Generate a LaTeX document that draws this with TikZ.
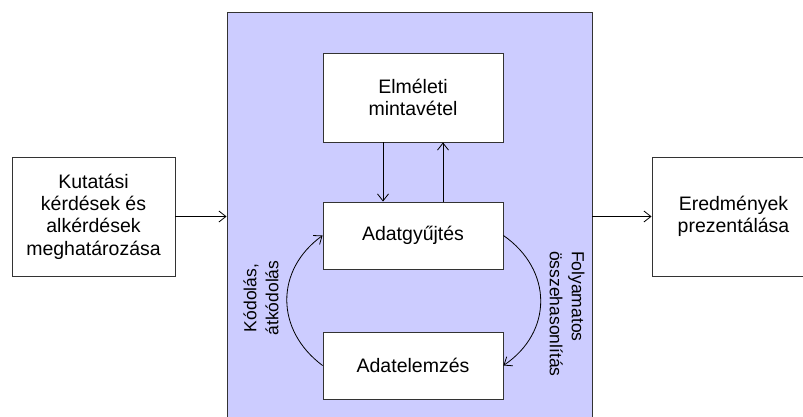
\documentclass[tikz,border=0pt]{standalone}
\usepackage{fontspec}
\setmainfont{Liberation Sans}
\usetikzlibrary{arrows.meta,calc}
\definecolor{frameblue}{HTML}{CCCCFF}
\definecolor{edge}{HTML}{333333}
\tikzset{
  box/.style={draw=edge, fill=white, line width=0.9pt, inner sep=0pt, align=center,
    font=\fontsize{19.5}{22.3}\selectfont},
  conn/.style={draw=black, line width=0.8pt, -{Straight Barb[length=7pt,width=11pt]}},
  lbl/.style={font=\fontsize{17.5}{22}\selectfont, inner sep=0pt}
}
\begin{document}
\begin{tikzpicture}[x=1pt,y=-1pt]
\clip (0,0) rectangle (803,417);
\fill[white] (0,0) rectangle (803,417);
\node[draw=edge, fill=frameblue, line width=0.9pt, minimum width=365pt, minimum height=413pt, inner sep=0pt]
  (frame) at (409.5,218.5) {};
\node[box, minimum width=163pt, minimum height=119pt] (kut) at (93.5,216.5)
  {Kutatási\\kérdések és\\alkérdések\\meghatározása};
\node[box, minimum width=163pt, minimum height=119pt] (ered) at (733.5,216.5)
  {Eredmények\\prezentálása};
\node[box, minimum width=180pt, minimum height=89pt] (elm) at (413,97.5)
  {Elméleti\\mintavétel};
\node[box, minimum width=180pt, minimum height=67pt] (agy) at (413,235.5)
  {Adatgyűjtés};
\node[box, minimum width=180pt, minimum height=67pt] (ael) at (413,365.5)
  {Adatelemzés};
\draw[conn] (kut.east) -- (kut.east -| frame.west);
\draw[conn] (frame.east |- ered.west) -- (ered.west);
\draw[conn] ($(elm.south)+(-30,0)$) -- ($(agy.north)+(-30,0)$);
\draw[conn] ($(agy.north)+(30,0)$) -- ($(elm.south)+(30,0)$);
\draw[conn] (ael.west) .. controls (275,330) and (275,270) .. (agy.west);
\draw[conn] (agy.east) .. controls (553,270) and (553,332) .. (ael.east);
\node[lbl, rotate=90, align=center] (kod) at (261,298) {Kódolás,\\átkódolás};
\node[lbl, rotate=-90, align=left, anchor=west] (fol) at (567,251) {Folyamatos\\összehasonlítás};
\end{tikzpicture}
\end{document}
